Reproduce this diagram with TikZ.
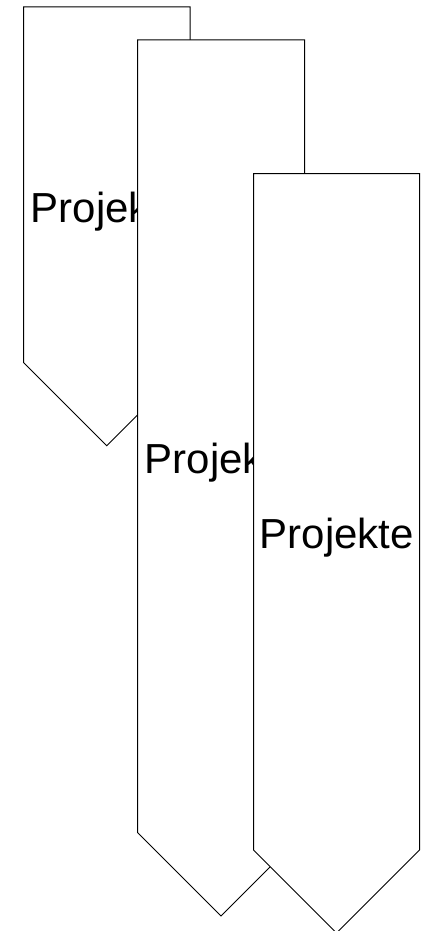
\documentclass[tikz,border=0pt]{standalone}
\usepackage{fontspec}
\setmainfont{Liberation Sans}
\begin{document}
\begin{tikzpicture}[x=1pt,y=-1pt,
  pennant/.style={draw=black, fill=white, line width=1pt, line join=miter},
  tag/.style={anchor=base west, inner sep=0pt, font=\fontsize{42}{50}\selectfont}]
\useasboundingbox (0,0) rectangle (422,931);
\clip (0,0) rectangle (422,931);
% first pennant
\draw[pennant] (23.5,7) -- (190,7) -- (190,362.5) -- (106.75,445.75) -- (23.5,362.5) -- cycle;
\node[tag] (t1) at (30.5,222) {Projekte};
% second pennant
\draw[pennant] (137.5,40) -- (304.5,40) -- (304.5,832.5) -- (221,916) -- (137.5,832.5) -- cycle;
\node[tag] (t2) at (144.5,473) {Projekte};
% third pennant
\draw[pennant] (253.5,173.5) -- (419.5,173.5) -- (419.5,850) -- (336.5,933) -- (253.5,850) -- cycle;
\node[tag] (t3) at (259.5,548) {Projekte};
\end{tikzpicture}
\end{document}
